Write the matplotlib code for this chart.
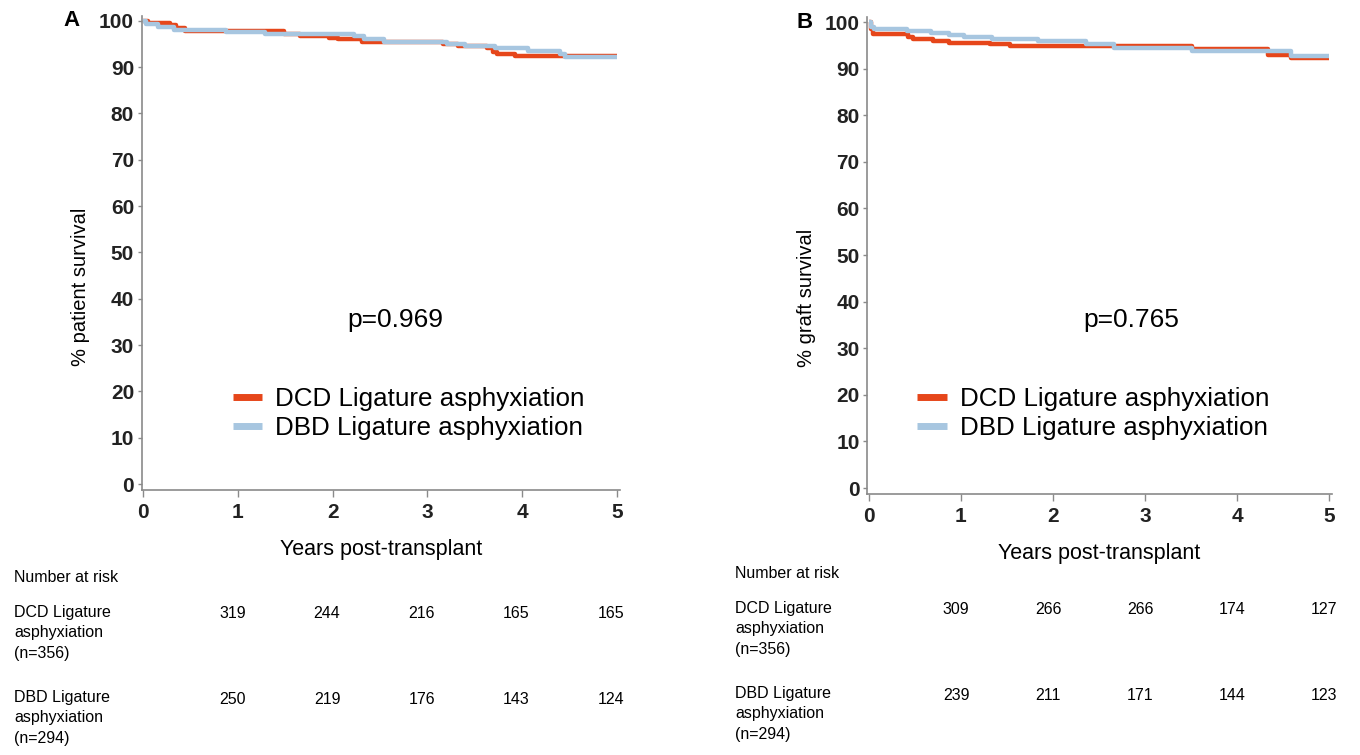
import numpy as np
import matplotlib
matplotlib.use('Agg')
import matplotlib.pyplot as plt
import matplotlib.transforms as mtransforms

plt.rcParams['font.family'] = ['Liberation Sans', 'DejaVu Sans']

# ---- data (years, % surviving) ----
a_dcd_t = [0, 0.05, 0.28, 0.34, 0.44, 1.49, 1.65, 1.96, 2.06, 2.31, 3.17, 3.32, 3.63, 3.69, 3.73, 3.93, 5.0]
a_dcd_s = [100, 99.5, 99.0, 98.5, 97.8, 97.2, 96.7, 96.3, 96.0, 95.5, 95.0, 94.5, 94.0, 93.3, 92.8, 92.4, 92.4]
a_dbd_t = [0, 0.03, 0.16, 0.32, 0.87, 1.28, 2.23, 2.33, 2.54, 3.21, 3.40, 3.71, 4.06, 4.40, 4.45, 5.0]
a_dbd_s = [100, 99.2, 98.6, 98.1, 97.6, 97.2, 96.7, 96.0, 95.5, 95.0, 94.6, 94.2, 93.4, 92.8, 92.1, 92.1]

b_dcd_t = [0, 0.02, 0.05, 0.43, 0.48, 0.70, 0.87, 1.32, 1.53, 3.51, 4.34, 4.59, 5.0]
b_dcd_s = [100, 98.5, 97.5, 96.8, 96.3, 95.9, 95.6, 95.3, 94.8, 94.3, 93.0, 92.2, 92.2]
b_dbd_t = [0, 0.02, 0.06, 0.41, 0.68, 0.87, 1.03, 1.34, 1.84, 2.36, 2.66, 3.51, 4.59, 5.0]
b_dbd_s = [100, 99.0, 98.4, 98.0, 97.7, 97.3, 96.8, 96.4, 95.9, 95.3, 94.4, 93.7, 92.8, 92.8]

risk_years = [1, 2, 3, 4, 5]
a_risk_dcd = [319, 244, 216, 165, 165]
a_risk_dbd = [250, 219, 176, 143, 124]
b_risk_dcd = [309, 266, 266, 174, 127]
b_risk_dbd = [239, 211, 171, 144, 123]

dcd_label = 'DCD Ligature asphyxiation'
dbd_label = 'DBD Ligature asphyxiation'
dcd_row = 'DCD Ligature\nasphyxiation\n(n=356)'
dbd_row = 'DBD Ligature\nasphyxiation\n(n=294)'

ORANGE = '#E6461A'
BLUE = '#A7C6E0'
W, H = 1360, 755

fig = plt.figure(figsize=(13.6, 7.55), dpi=100)


def px(x0, y0, x1, y1):
    # pixel box (top-left origin) -> figure fraction rect
    return [x0 / W, 1 - y1 / H, (x1 - x0) / W, (y1 - y0) / H]


def panel(rect, dcd, dbd, ylabel, ylab_xy, pval, pval_xy, leg_xy, letter, letter_xy,
          risk_dcd, risk_dbd, risk_shift, row_x, row_y):
    ax = fig.add_axes(rect)
    ax.step(dcd[0], dcd[1], where='post', color=ORANGE, lw=3.2, label=dcd_label, solid_capstyle='butt')
    ax.step(dbd[0], dbd[1], where='post', color=BLUE, lw=3.2, label=dbd_label, solid_capstyle='butt')
    ax.set_xlim(-0.017, 5.03)
    ax.set_ylim(-1.2, 101.1)
    ax.set_xticks(range(6))
    ax.set_yticks(range(0, 101, 10))
    for s in ['top', 'right']:
        ax.spines[s].set_visible(False)
    for s in ['left', 'bottom']:
        ax.spines[s].set_color('#8a8a8a')
        ax.spines[s].set_linewidth(1.2)
    ax.tick_params(axis='both', colors='#8a8a8a', labelcolor='#222222', labelsize=15, width=1)
    ax.tick_params(axis='y', length=3, pad=2.5)
    ax.tick_params(axis='x', length=5, pad=5)
    for lab in ax.get_xticklabels() + ax.get_yticklabels():
        lab.set_fontweight('bold')
    ax.set_ylabel(ylabel, fontsize=14.5)
    ax.yaxis.set_label_coords(*ylab_xy)
    ax.set_xlabel('Years post-transplant', fontsize=15.5, labelpad=12)
    ax.text(pval_xy[0], pval_xy[1], pval, fontsize=19, ha='center', va='center')
    ax.legend(loc='center left', bbox_to_anchor=leg_xy, frameon=False, fontsize=18.7,
              handlelength=1.15, handletextpad=0.5, labelspacing=0.2,
              borderaxespad=0, borderpad=0)
    for lh in ax.get_legend().get_lines():
        lh.set_linewidth(5)
    fig.text(letter_xy[0] / W, 1 - letter_xy[1] / H, letter, fontsize=16,
             fontweight='bold', ha='center', va='center')

    # number-at-risk table below the axis
    tr = mtransforms.blended_transform_factory(ax.transData, fig.transFigure)
    fig.text(row_x / W, 1 - row_y[0] / H, 'Number at risk', fontsize=11.5, va='center')
    fig.text(row_x / W, 1 - row_y[1] / H, dcd_row, fontsize=11.5, va='top', linespacing=1.45)
    fig.text(row_x / W, 1 - row_y[2] / H, dbd_row, fontsize=11.5, va='top', linespacing=1.45)
    for yr, n1, n2 in zip(risk_years, risk_dcd, risk_dbd):
        ax.text(yr + risk_shift, 1 - (row_y[1] + 9) / H, str(n1), transform=tr,
                fontsize=11.5, ha='center', va='center')
        ax.text(yr + risk_shift, 1 - (row_y[2] + 9) / H, str(n2), transform=tr,
                fontsize=11.5, ha='center', va='center')
    return ax


panel(px(141.7, 15.6, 619.6, 489.6), (a_dcd_t, a_dcd_s), (a_dbd_t, a_dbd_s),
      '% patient survival', (-0.108, 0.427), 'p=0.969', (2.66, 35.3), (0.19, 0.16),
      'A', (71, 20), a_risk_dcd, a_risk_dbd, -0.06, 14, (577, 605, 690))

panel(px(867.2, 16.9, 1331.8, 493.6), (b_dcd_t, b_dcd_s), (b_dbd_t, b_dbd_s),
      '% graft survival', (-0.110, 0.41), 'p=0.765', (2.85, 36), (0.108, 0.168),
      'B', (805, 22), b_risk_dcd, b_risk_dbd, -0.05, 735, (573, 601, 686))

fig.savefig('out.png', dpi=100)
